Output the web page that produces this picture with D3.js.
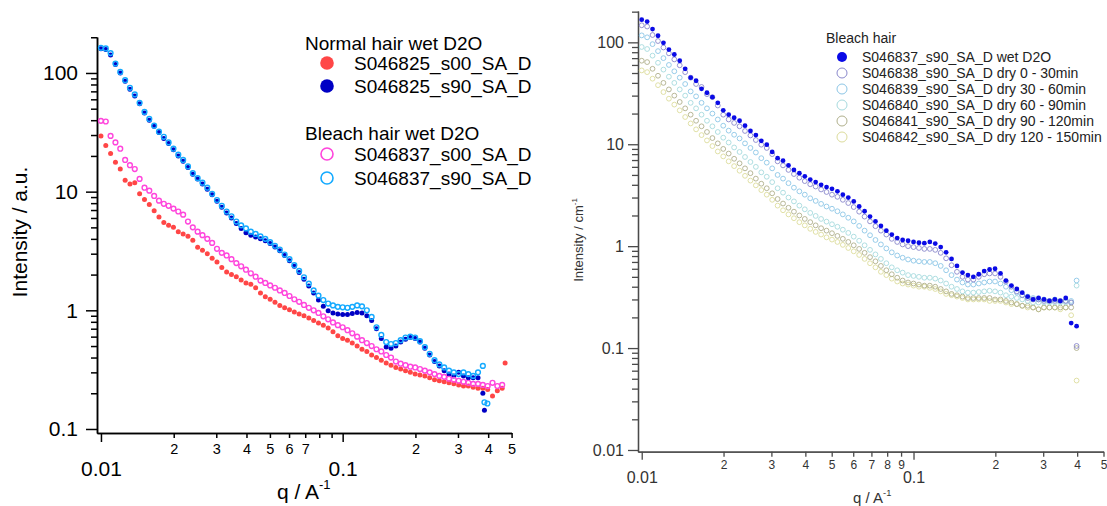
<!DOCTYPE html>
<html>
<head>
<meta charset="utf-8">
<script src="https://cdn.jsdelivr.net/npm/d3@7"></script>
<style>
html, body { margin: 0; padding: 0; background: #fff; }
svg { display: block; font-family: "Liberation Sans", Arial, sans-serif; }
</style>
</head>
<body>
<svg id="chart" width="1107" height="506"></svg>
<script>
// shared q grid (A^-1)
const qGrid = [
  0.01000,0.01047,0.01096,0.01148,0.01202,0.01259,0.01318,0.01380,0.01445,0.01514,
  0.01585,0.01660,0.01738,0.01820,0.01905,0.01995,0.02089,0.02188,0.02291,0.02399,
  0.02512,0.02630,0.02754,0.02884,0.03020,0.03162,0.03311,0.03467,0.03631,0.03802,
  0.03981,0.04169,0.04365,0.04571,0.04786,0.05012,0.05248,0.05495,0.05754,0.06026,
  0.06310,0.06607,0.06918,0.07244,0.07586,0.07943,0.08318,0.08710,0.09120,0.09550,
  0.1000,0.1047,0.1096,0.1148,0.1202,0.1259,0.1318,0.1380,0.1445,0.1514,
  0.1585,0.1660,0.1738,0.1820,0.1905,0.1995,0.2089,0.2188,0.2291,0.2399,
  0.2512,0.2630,0.2754,0.2884,0.3020,0.3162,0.3311,0.3467,0.3631,0.3802,
  0.3981,0.4169,0.4365,0.4571
];

// left panel: normal vs bleach hair, wet D2O
const normalS00 = [
  29.5,24.5,21,17.7,15.5,12.5,11.6,11.9,9.6,8.6,
  7.8,6.9,6.1,5.5,5.2,5.0,4.6,4.4,4.2,3.9,
  3.4,3.2,3.0,2.75,2.55,2.3,2.1,2.0,1.92,1.8,
  1.7,1.66,1.55,1.4,1.3,1.24,1.17,1.10,1.05,1.01,
  0.97,0.93,0.90,0.86,0.82,0.78,0.75,0.71,0.66,0.61,
  0.58,0.56,0.53,0.50,0.47,0.45,0.42,0.40,0.38,0.36,
  0.345,0.33,0.32,0.31,0.30,0.29,0.285,0.28,0.27,0.26,
  0.255,0.25,0.245,0.24,0.235,0.23,0.23,0.225,0.22,0.22,
  0.215,0.19,0.21,0.22
];
const normalS90 = [
  160,158,142,118,100,85,73,64,55,46,
  40,35.5,31.5,28,25.5,22.5,20,18,16,14.0,
  12.8,11.6,10.5,9.4,8.3,7.4,6.6,6.0,5.4,4.9,
  4.5,4.3,4.15,4.0,3.85,3.65,3.42,3.18,2.9,2.62,
  2.35,2.08,1.83,1.6,1.4,1.22,1.08,0.99,0.95,0.93,
  0.92,0.92,0.94,0.96,0.95,0.90,0.82,0.70,0.58,0.49,
  0.48,0.50,0.54,0.57,0.59,0.58,0.54,0.48,0.42,0.37,
  0.34,0.31,0.29,0.28,0.30,0.28,0.27,0.27,0.27,0.20
];
const bleachS00 = [
  39.5,39,29.5,26,23,18.5,16.7,15.5,12.8,10.8,
  10.2,9.2,8.4,7.9,7.6,7.2,6.8,6.4,5.6,5.0,
  4.6,4.3,4.0,3.7,3.3,3.05,2.9,2.7,2.5,2.35,
  2.2,2.05,1.92,1.78,1.70,1.62,1.55,1.47,1.4,1.32,
  1.24,1.18,1.11,1.05,1.0,0.95,0.89,0.84,0.79,0.75,
  0.72,0.68,0.64,0.60,0.56,0.53,0.50,0.47,0.45,0.42,
  0.40,0.37,0.355,0.345,0.335,0.33,0.32,0.31,0.30,0.29,
  0.28,0.275,0.265,0.26,0.255,0.25,0.245,0.24,0.24,0.235,
  0.23,0.245,0.23,0.235
];
const bleachS90 = [
  163,161,147,120,102,87,75,66,56,47,
  41,36,32,29,26,23,20.5,18.5,16.3,14.3,
  13.0,11.9,10.8,9.6,8.5,7.6,6.8,6.2,5.6,5.2,
  4.9,4.6,4.4,4.2,4.0,3.75,3.5,3.25,2.95,2.7,
  2.4,2.15,1.9,1.68,1.47,1.33,1.22,1.14,1.10,1.07,
  1.06,1.05,1.07,1.10,1.08,1.00,0.88,0.72,0.62,0.54,
  0.52,0.53,0.56,0.59,0.60,0.59,0.55,0.49,0.43,0.38,
  0.35,0.33,0.31,0.30,0.29,0.30,0.29,0.28,0.30,0.34
];
// stray end points [q, I]
const normalS00Extra = [[0.470, 0.36]];
const normalS90Extra = [[0.386, 0.144]];
const bleachS90Extra = [[0.386, 0.168], [0.397, 0.164]];

// right panel: bleach hair drying series
const wetD2O = [
  167,160,135,116,99,85,76,66,55,45,
  42,35,32,29,25.5,21.5,19.5,18.2,17,15.2,
  13.5,12.3,10.8,9.9,8.4,7.3,6.9,6.2,5.6,5.2,
  4.85,4.5,4.25,4.0,3.8,3.65,3.45,3.2,3.0,2.75,
  2.45,2.2,1.95,1.75,1.58,1.42,1.3,1.2,1.15,1.13,
  1.1,1.08,1.07,1.1,1.06,0.98,0.87,0.75,0.64,0.55,
  0.52,0.50,0.53,0.57,0.59,0.60,0.54,0.46,0.41,0.38,
  0.35,0.32,0.30,0.31,0.30,0.29,0.30,0.29,0.31,0.176,
  0.164
];
const dry0to30 = [
  147,143,118,103,89,78,68,59.5,51,45,
  39,36.5,31,29,24,19.5,17.5,16.2,15,13.5,
  12.2,11.0,9.9,9.2,8.0,6.8,6.2,5.6,5.1,4.7,
  4.35,4.05,3.85,3.6,3.4,3.2,3.05,2.85,2.65,2.42,
  2.18,1.95,1.75,1.57,1.42,1.3,1.18,1.1,1.04,1.0,
  0.98,0.96,0.94,0.94,0.92,0.86,0.76,0.65,0.56,0.5,
  0.47,0.47,0.5,0.53,0.54,0.54,0.5,0.45,0.4,0.36,
  0.33,0.31,0.30,0.30,0.29,0.29,0.29,0.29,0.29,0.28,
  0.105
];
const dry30to60 = [
  117,112,96,82,70,60,52,45,39,33,
  29.5,25.5,22.5,20,17.5,15.2,13.6,12.4,11.4,10.2,
  9.2,8.3,7.3,6.6,5.8,5.0,4.6,4.15,3.75,3.45,
  3.2,2.95,2.78,2.6,2.45,2.33,2.2,2.05,1.9,1.75,
  1.58,1.42,1.28,1.15,1.04,0.95,0.87,0.81,0.77,0.74,
  0.72,0.71,0.70,0.70,0.68,0.64,0.58,0.52,0.47,0.44,
  0.42,0.42,0.43,0.44,0.45,0.45,0.43,0.40,0.37,0.35,
  0.33,0.32,0.31,0.30,0.30,0.29,0.30,0.29,0.29,0.29,
  0.46
];
const dry60to90 = [
  90,86,74,63,54,46,40,34.5,30,25.5,
  22.5,19.5,17,15,13.2,11.6,10.4,9.3,8.4,7.5,
  6.7,6.0,5.3,4.8,4.25,3.7,3.35,3.0,2.75,2.5,
  2.3,2.12,1.98,1.85,1.74,1.64,1.55,1.45,1.35,1.24,
  1.13,1.02,0.92,0.83,0.75,0.68,0.62,0.58,0.55,0.52,
  0.51,0.50,0.49,0.49,0.48,0.46,0.43,0.40,0.38,0.36,
  0.35,0.35,0.355,0.36,0.365,0.36,0.35,0.33,0.32,0.31,
  0.30,0.29,0.28,0.28,0.28,0.28,0.28,0.28,0.28,0.28,
  0.41
];
const dry90to120 = [
  66,64,55,47,40,34.5,30,26,22.5,19.5,
  17,15,13.2,11.5,10.2,9.0,8.1,7.2,6.5,5.8,
  5.2,4.6,4.1,3.7,3.3,2.9,2.62,2.38,2.18,2.0,
  1.85,1.72,1.6,1.5,1.42,1.34,1.26,1.18,1.1,1.02,
  0.94,0.86,0.78,0.71,0.64,0.58,0.53,0.49,0.46,0.44,
  0.43,0.42,0.41,0.41,0.40,0.38,0.36,0.34,0.33,0.32,
  0.31,0.31,0.31,0.31,0.31,0.30,0.30,0.29,0.28,0.27,
  0.26,0.26,0.25,0.24,0.25,0.25,0.25,0.25,0.25,0.25,
  0.10
];
const dry120to150 = [
  53,51,44,38,32.5,28,24.5,21.5,18.5,16,
  14,12.3,10.9,9.6,8.5,7.6,6.8,6.1,5.5,4.9,
  4.4,3.95,3.55,3.2,2.85,2.5,2.25,2.05,1.88,1.72,
  1.6,1.48,1.38,1.3,1.22,1.16,1.1,1.03,0.96,0.89,
  0.82,0.75,0.68,0.62,0.56,0.52,0.48,0.45,0.43,0.42,
  0.41,0.40,0.40,0.39,0.38,0.36,0.34,0.33,0.32,0.31,
  0.30,0.30,0.30,0.30,0.29,0.29,0.29,0.28,0.27,0.27,
  0.26,0.25,0.25,0.24,0.25,0.25,0.25,0.24,0.25,0.21,
  0.048
];

const xMinor = [0.02,0.03,0.04,0.05,0.06,0.07,0.08,0.09,0.2,0.3,0.4,0.5];
const leftXMinorLabels = [0.02,0.03,0.04,0.05,0.06,0.07,0.2,0.3,0.4,0.5];
const rightXMinorLabels = [0.02,0.03,0.04,0.05,0.06,0.07,0.08,0.09,0.2,0.3,0.4,0.5];
const leftYMajor = [0.1, 1, 10, 100];
const rightYMajor = [0.01, 0.1, 1, 10, 100];

const svg = d3.select('#chart');

const pts = (vals, extra) => {
  const out = [];
  vals.forEach((v, i) => { if (v != null) out.push([qGrid[i], v]); });
  (extra || []).forEach(d => out.push(d));
  return out;
};

const yMinorFor = dom => {
  const out = [];
  for (let e = -3; e <= 3; e++) {
    for (let m = 2; m <= 9; m++) {
      const v = m * Math.pow(10, e);
      if (v >= dom[0] && v <= dom[1]) out.push(+v.toPrecision(3));
    }
  }
  return out;
};

const lead = d => String(Math.round(d / Math.pow(10, Math.floor(Math.log10(d) + 1e-9))));

function drawPanel(p) {
  const x = d3.scaleLog().domain(p.xDom).range(p.xRange);
  const y = d3.scaleLog().domain(p.yDom).range(p.yRange);
  const g = svg.append('g');

  const style = sel => {
    sel.attr('font-family', '"Liberation Sans", Arial, sans-serif');
    sel.selectAll('path, line').attr('stroke', p.axisColor).attr('stroke-width', p.axisWidth);
    sel.selectAll('text').attr('fill', p.textColor);
  };

  // y axis
  g.append('g').attr('transform', `translate(${p.xRange[0]},0)`)
    .call(d3.axisLeft(y).tickValues(yMinorFor(p.yDom)).tickSize(p.minorLen).tickSizeOuter(0).tickFormat(''))
    .call(style);
  g.append('g').attr('transform', `translate(${p.xRange[0]},0)`)
    .call(d3.axisLeft(y).tickValues(p.yMajor).tickSize(p.majorLen).tickSizeOuter(0)
      .tickPadding(p.yPad).tickFormat(d3.format('~g')))
    .call(style)
    .attr('font-size', p.majorFont);

  // x axis
  g.append('g').attr('transform', `translate(0,${p.yRange[0]})`)
    .call(d3.axisBottom(x).tickValues(xMinor).tickSize(p.minorLen - 1).tickSizeOuter(0)
      .tickPadding(p.minorPad).tickFormat(d => p.xMinorLabels.includes(d) ? lead(d) : ''))
    .call(style)
    .attr('font-size', p.minorFont);
  g.append('g').attr('transform', `translate(0,${p.yRange[0]})`)
    .call(d3.axisBottom(x).tickValues([0.01, 0.1]).tickSize(p.majorLen - 2).tickSizeOuter(0)
      .tickPadding(p.majorPad).tickFormat(d3.format('~g')))
    .call(style)
    .attr('font-size', p.majorFont);

  // axis titles
  const xt = g.append('text')
    .attr('x', p.xTitle[0]).attr('y', p.xTitle[1])
    .attr('font-size', p.titleFont).attr('fill', p.textColor)
    .text('q / A');
  xt.append('tspan').attr('dy', -p.titleFont * 0.5).attr('font-size', p.titleFont * 0.62).text('-1');

  const yt = g.append('text')
    .attr('transform', `translate(${p.yTitle[0]},${p.yTitle[1]}) rotate(-90)`)
    .attr('text-anchor', 'middle')
    .attr('font-size', p.yTitleFont).attr('fill', p.textColor)
    .text(p.yTitleText);
  if (p.yTitleSup) {
    yt.append('tspan').attr('dy', -p.yTitleFont * 0.5).attr('font-size', p.yTitleFont * 0.62).text(p.yTitleSup);
  }

  // data
  p.series.forEach(s => {
    g.append('g').selectAll('circle')
      .data(pts(s.values, s.extra))
      .enter().append('circle')
      .attr('cx', d => x(d[0]))
      .attr('cy', d => y(d[1]))
      .attr('r', s.filled ? p.dotR : p.ringR)
      .attr('fill', s.filled ? s.color : 'none')
      .attr('stroke', s.filled ? 'none' : s.color)
      .attr('stroke-width', s.filled ? 0 : p.ringW);
  });
}

const RED = '#ff4646', DARKBLUE = '#0000c4', MAGENTA = '#ff45dc', SKY = '#14aaff';

drawPanel({
  xDom: [0.00963, 0.5], xRange: [97, 511.6],
  yDom: [0.0925, 201], yRange: [433, 37],
  yMajor: leftYMajor, xMinorLabels: leftXMinorLabels,
  majorLen: 11, minorLen: 6, yPad: 8, minorPad: 6, majorPad: 19,
  majorFont: 21, minorFont: 14.5, titleFont: 21,
  axisColor: '#000', axisWidth: 1.5, textColor: '#000',
  xTitle: [277, 499], yTitle: [27, 232], yTitleText: 'Intensity / a.u.', yTitleFont: 21,
  dotR: 2.5, ringR: 2.4, ringW: 1.4,
  series: [
    { values: normalS00, extra: normalS00Extra, color: RED, filled: true },
    { values: normalS90, extra: normalS90Extra, color: DARKBLUE, filled: true },
    { values: bleachS00, color: MAGENTA, filled: false },
    { values: bleachS90, extra: bleachS90Extra, color: SKY, filled: false }
  ]
});

const rightSeries = [
  { name: 'S046837_s90_SA_D wet D2O', values: wetD2O, color: '#0a0ae6', filled: true },
  { name: 'S046838_s90_SA_D dry 0 - 30min', values: dry0to30, color: '#8a88cc', filled: false },
  { name: 'S046839_s90_SA_D dry 30 - 60min', values: dry30to60, color: '#8cc6e6', filled: false },
  { name: 'S046840_s90_SA_D dry 60 - 90min', values: dry60to90, color: '#a6dade', filled: false },
  { name: 'S046841_s90_SA_D dry 90 - 120min', values: dry90to120, color: '#b0b08c', filled: false },
  { name: 'S046842_s90_SA_D dry 120 - 150min', values: dry120to150, color: '#dcdc9c', filled: false }
];

drawPanel({
  xDom: [0.00969, 0.5], xRange: [638, 1103.5],
  yDom: [0.00962, 203], yRange: [451.7, 11],
  yMajor: rightYMajor, xMinorLabels: rightXMinorLabels,
  majorLen: 10, minorLen: 6, yPad: 4, minorPad: 4, majorPad: 12,
  majorFont: 16, minorFont: 12, titleFont: 15,
  axisColor: '#4a4a4a', axisWidth: 1.3, textColor: '#333',
  xTitle: [853, 503], yTitle: [583, 240], yTitleText: 'Intensity / cm', yTitleSup: '-1', yTitleFont: 13,
  dotR: 2.4, ringR: 2.4, ringW: 0.9,
  series: rightSeries.slice().reverse()
});

// left legend
const legL = svg.append('g').attr('font-size', 19).attr('fill', '#000');
const leftGroups = [
  { title: 'Normal hair wet D2O', ty: 43, items: [
    { name: 'S046825_s00_SA_D', color: RED, filled: true, cy: 63 },
    { name: 'S046825_s90_SA_D', color: DARKBLUE, filled: true, cy: 86 }] },
  { title: 'Bleach hair wet D2O', ty: 133, items: [
    { name: 'S046837_s00_SA_D', color: MAGENTA, filled: false, cy: 154 },
    { name: 'S046837_s90_SA_D', color: SKY, filled: false, cy: 178 }] }
];
leftGroups.forEach(gr => {
  legL.append('text').attr('x', 305).attr('y', gr.ty + 6.8).text(gr.title);
  gr.items.forEach(it => {
    legL.append('circle').attr('cx', 327).attr('cy', it.cy)
      .attr('r', it.filled ? 6.8 : 6)
      .attr('fill', it.filled ? it.color : 'none')
      .attr('stroke', it.filled ? 'none' : it.color)
      .attr('stroke-width', 1.6);
    legL.append('text').attr('x', 354).attr('y', it.cy + 6.8).text(it.name);
  });
});

// right legend
const legR = svg.append('g').attr('font-size', 14).attr('fill', '#222');
legR.append('text').attr('x', 826).attr('y', 43).text('Bleach hair');
rightSeries.forEach((s, i) => {
  const cy = 57 + i * 16;
  legR.append('circle').attr('cx', 842).attr('cy', cy).attr('r', 5)
    .attr('fill', s.filled ? s.color : 'none')
    .attr('stroke', s.filled ? 'none' : s.color)
    .attr('stroke-width', 1);
  legR.append('text').attr('x', 862).attr('y', cy + 5).text(s.name);
});
</script>
</body>
</html>
